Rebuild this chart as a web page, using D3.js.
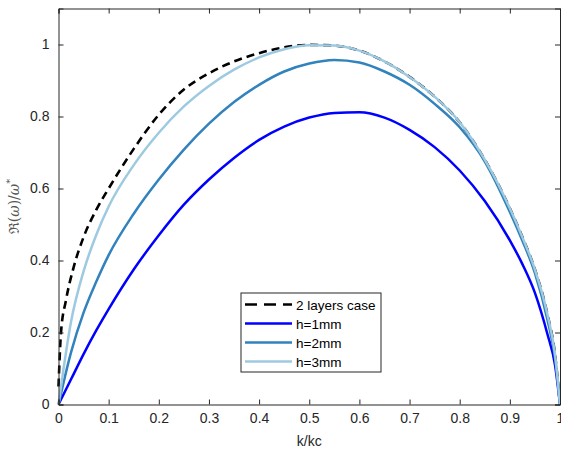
<!DOCTYPE html>
<html lang="en">
<head>
    <meta charset="UTF-8">
    <title>Re(omega) vs k/kc</title>
    <style>
        body { margin: 0; background: #fff; }
        svg { display: block; font-family: "Liberation Sans", Arial, sans-serif; }
    </style>
</head>
<body>
    <svg class="omega_plot"></svg>
    <script src="https://d3js.org/d3.v7.min.js"></script>
    <script>
    // values
    const k_grid = [0, 0.025, 0.05, 0.075, 0.1, 0.15, 0.2, 0.25, 0.3, 0.35, 0.4, 0.45, 0.5,
                    0.55, 0.6, 0.65, 0.7, 0.75, 0.8, 0.85, 0.9, 0.925, 0.95, 0.975, 0.99, 1];

    const h1mm = [0, 0.07, 0.14, 0.205, 0.265, 0.375, 0.47, 0.555, 0.625, 0.685, 0.735, 0.772, 0.797,
                  0.81, 0.812, 0.797, 0.763, 0.715, 0.65, 0.565, 0.456, 0.39, 0.31, 0.195, 0.11, 0];
    const h2mm = [0, 0.145, 0.255, 0.34, 0.415, 0.53, 0.625, 0.708, 0.78, 0.84, 0.888, 0.925, 0.947,
                  0.957, 0.95, 0.925, 0.888, 0.835, 0.77, 0.675, 0.535, 0.455, 0.365, 0.235, 0.13, 0];
    const h3mm = [0, 0.23, 0.37, 0.47, 0.55, 0.665, 0.755, 0.828, 0.885, 0.93, 0.964, 0.987, 0.998,
                  0.997, 0.983, 0.953, 0.91, 0.855, 0.784, 0.68, 0.545, 0.465, 0.375, 0.25, 0.14, 0];

    const k_two = [0, 0.005, 0.015, 0.03, 0.05, 0.075, 0.1, 0.15, 0.2, 0.25, 0.3, 0.35, 0.4, 0.45,
                   0.5, 0.55, 0.6, 0.65, 0.7, 0.75, 0.8, 0.85, 0.9, 0.925, 0.95, 0.975, 0.99, 1];
    const two_layers = [0.05, 0.2, 0.29, 0.38, 0.465, 0.54, 0.6, 0.71, 0.805, 0.875, 0.92, 0.953, 0.976, 0.992,
                        0.999, 0.997, 0.983, 0.953, 0.91, 0.855, 0.784, 0.68, 0.545, 0.465, 0.375, 0.25, 0.14, 0];

    const x_ticks = [0, 0.1, 0.2, 0.3, 0.4, 0.5, 0.6, 0.7, 0.8, 0.9, 1];
    const y_ticks = [0, 0.2, 0.4, 0.6, 0.8, 1];

    const series = [
        {name: "2 layers case", k: k_two, v: two_layers, color: "#000000", dash: "8,5"},
        {name: "h=1mm", k: k_grid, v: h1mm, color: "#0000ff", dash: null},
        {name: "h=2mm", k: k_grid, v: h2mm, color: "#3182bd", dash: null},
        {name: "h=3mm", k: k_grid, v: h3mm, color: "#9ecae1", dash: null}
    ];

    const width = 561, height = 450;
    const margin = {top: 8.5, right: 1, bottom: 45.5, left: 58.5};
    const axis_col = "#262626";

    const svg = d3.select(".omega_plot")
        .attr("width", width)
        .attr("height", height);

    const x_scale = d3.scaleLinear()
        .domain([0, 1])
        .range([margin.left, width - margin.right]);

    const y_scale = d3.scaleLinear()
        .domain([0, 1.1])
        .range([height - margin.bottom, margin.top]);

    // curves, dashed one first so the light blue sits over it
    const line_gen = d3.line()
        .curve(d3.curveMonotoneX)
        .x(d => x_scale(d[0]))
        .y(d => y_scale(d[1]));

    series.forEach(s => {
        svg.append("path")
            .datum(s.k.map((k, i) => [k, s.v[i]]))
            .attr("d", line_gen)
            .style("fill", "none")
            .style("stroke", s.color)
            .style("stroke-width", s.dash ? 2.6 : 2.5)
            .style("stroke-dasharray", s.dash);
    });

    // axes, ticks pointing inward on all four sides
    const bottom_axis = svg.append("g")
        .attr("transform", "translate(0," + y_scale(0) + ")")
        .call(d3.axisBottom(x_scale).tickValues(x_ticks).tickSize(-5).tickPadding(9)
            .tickFormat(d3.format("")));
    const left_axis = svg.append("g")
        .attr("transform", "translate(" + x_scale(0) + ",0)")
        .call(d3.axisLeft(y_scale).tickValues(y_ticks).tickSize(-5).tickPadding(9)
            .tickFormat(d3.format("")));
    const top_axis = svg.append("g")
        .attr("transform", "translate(0," + y_scale(1.1) + ")")
        .call(d3.axisTop(x_scale).tickValues(x_ticks).tickSize(-5).tickFormat(""));
    const right_axis = svg.append("g")
        .attr("transform", "translate(" + x_scale(1) + ",0)")
        .call(d3.axisRight(y_scale).tickValues(y_ticks).tickSize(-5).tickFormat(""));

    [bottom_axis, left_axis, top_axis, right_axis].forEach(ax => {
        ax.select(".domain").attr("stroke", axis_col).attr("stroke-width", 1);
        ax.selectAll(".tick line").attr("stroke", axis_col);
        ax.selectAll(".tick text")
            .attr("fill", axis_col)
            .style("font-size", "14px")
            .style("font-family", "'Liberation Sans', Arial, sans-serif");
    });

    // axis labels
    svg.append("text")
        .attr("x", (x_scale(0) + x_scale(1)) / 2)
        .attr("y", 446)
        .attr("text-anchor", "middle")
        .attr("fill", axis_col)
        .style("font-size", "14px")
        .text("k/kc");

    const y_lab = svg.append("text")
        .attr("transform", "translate(19," + (y_scale(0) + y_scale(1.1)) / 2 + ") rotate(-90)")
        .attr("text-anchor", "middle")
        .attr("fill", "#555")
        .style("font-size", "14px")
        .style("font-family", "'DejaVu Serif', serif");
    y_lab.append("tspan").text("\u211c(");
    y_lab.append("tspan").style("font-style", "italic").text("\u03c9");
    y_lab.append("tspan").text(")/");
    y_lab.append("tspan").style("font-style", "italic").text("\u03c9");
    y_lab.append("tspan").attr("dy", -6).style("font-size", "10px").text("*");

    // legend
    const legend = svg.append("g").attr("transform", "translate(241,293)");
    legend.append("rect")
        .attr("width", 140)
        .attr("height", 79)
        .attr("fill", "#fff")
        .attr("stroke", axis_col)
        .attr("stroke-width", 1);

    series.forEach((s, i) => {
        const y = 11.5 + i * 19;
        legend.append("line")
            .attr("x1", 4).attr("x2", 51)
            .attr("y1", y).attr("y2", y)
            .style("stroke", s.color)
            .style("stroke-width", s.dash ? 2.6 : 2.5)
            .style("stroke-dasharray", s.dash ? "12,7" : null);
        legend.append("text")
            .attr("x", 55)
            .attr("y", y + 5)
            .attr("fill", "#000")
            .style("font-size", "13.5px")
            .text(s.name);
    });
    </script>
</body>
</html>
